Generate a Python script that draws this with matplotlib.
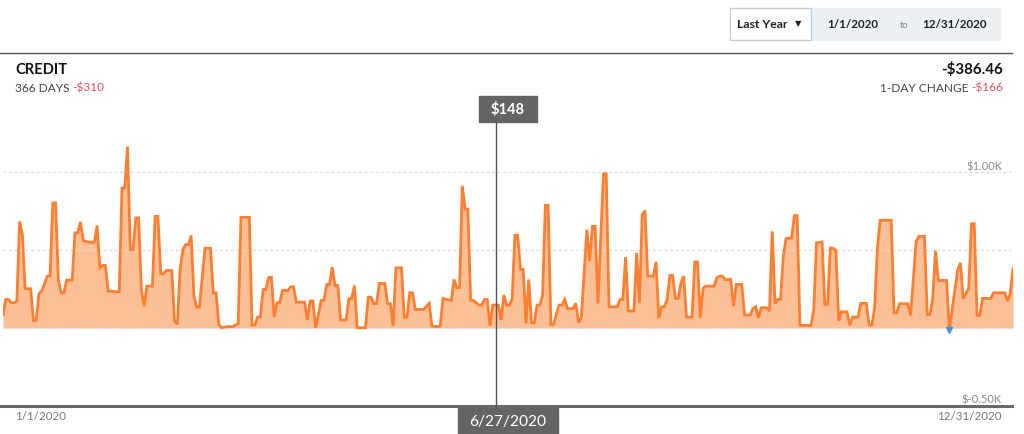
import matplotlib
matplotlib.use("Agg")
import matplotlib.pyplot as plt
from matplotlib.patches import Rectangle
from matplotlib.lines import Line2D

plt.rcParams['font.family'] = ['Lato', 'DejaVu Sans']

# day index (0 = 1/1/2020) and credit balance in $ at each vertex of the line
day = [0, 1, 2, 3, 4, 5, 6, 7, 8, 10, 11, 12, 13, 14, 16, 17, 18, 19, 20, 21,
       22, 23, 25, 26, 27, 28, 29, 31, 33, 34, 35, 36, 37, 38, 42, 43, 44, 45,
       46, 47, 48, 49, 50, 51, 52, 54, 55, 56, 57, 58, 59, 61, 62, 63, 64, 65,
       66, 67, 68, 69, 70, 71, 73, 75, 76, 77, 78, 79, 81, 83, 85, 86, 89,
       90, 91, 92, 93, 94, 95, 96, 97, 98, 99, 100, 101, 103, 104, 105, 106,
       109, 110, 111, 112, 113, 115, 116, 117, 118, 119, 120, 121, 122, 124,
       125, 126, 127, 128, 131, 132, 133, 134, 135, 136, 138, 139, 140, 141,
       142, 144, 145, 146, 147, 148, 149, 152, 154, 155, 157, 158, 159, 162,
       163, 164, 165, 166, 167, 168, 169, 170, 172, 173, 174, 175, 176, 177,
       178, 179,
       180, 181, 182, 183, 184, 185, 186, 187, 188, 189, 190, 191, 192, 193,
       194, 195, 196, 197, 198, 199, 200, 201, 202, 203, 204, 206, 207, 208,
       209, 211, 212, 213, 214, 215, 217, 218, 219, 222, 223, 224, 225, 226,
       228, 229, 230, 231, 232, 233, 235, 236, 237, 238, 239, 240, 241, 242,
       243, 244, 245, 246, 247, 249, 250, 251, 252, 253, 254, 257, 258, 259,
       260, 261, 263, 264, 265, 267, 268, 270, 271, 272, 273,
       274, 276, 277, 278, 279, 280, 281, 282, 283, 285, 286, 287, 288, 292,
       293, 294, 296, 297, 298, 299, 300, 301, 302, 303, 305, 306, 307, 309,
       310, 312, 313, 314, 315, 316, 317, 321, 322, 323, 324, 327, 328, 330,
       331, 333, 334, 335, 336, 337, 338, 341, 342, 343, 345, 346, 347, 349,
       350, 351, 352, 353, 354, 357, 358, 362, 363, 364, 365]
credit = [87, 183, 183, 162, 162, 173, 684, 599, 252, 252, 49, 49, 220, 237,
          333, 333, 802, 802, 311, 226, 226, 307, 307, 610, 610, 680, 561, 550,
          550, 657, 386, 401, 401, 237, 232, 898, 898, 1164, 503, 503, 706, 706,
          247, 141, 269, 269, 716, 716, 348, 348, 369, 369, 45, 23, 375, 503,
          535, 535, 593, 205, 134, 134, 512, 512, 226, 226, 23, 2, 9, 9, 28,
          710, 710,
          19, 19, 70, 70, 247, 247, 324, 324, 70, 162, 162, 241, 241, 264, 264,
          166, 166, 51, 173, 173, 2, 177, 177, 279, 279, 390, 273, 273, 51, 51,
          188, 188, 273, 2, 2, 198, 198, 156, 156, 286, 286, 156, 156, 13, 386,
          386, 70, 70, 226, 226, 119, 119, 158, 13, 9, 13, 190, 177, 311, 260,
          260, 912, 763, 763, 177, 177, 147, 147, 183, 183, 13, 147, 148, 147,
          51, 211, 147, 147, 188, 595, 595, 375, 375, 30, 311, 34, 34, 147, 147,
          211, 787, 787, 23, 23, 92, 147, 147, 183, 124, 124, 158, 34, 70, 631,
          429, 652, 652, 158, 989, 989, 136, 136, 183, 183, 454, 109, 109, 482,
          162, 727, 753, 333, 333, 424, 62, 136, 136, 183, 337, 337, 190, 190,
          290, 333, 70, 70, 424, 424, 66, 254, 269, 269, 322, 333, 333, 311,
          311, 141, 279, 279, 83, 83, 124, 136, 66,
          130, 130, 109, 620, 156, 183, 183, 461, 574, 578, 721, 721, 17, 17,
          119, 546, 552, 151, 151, 514, 510, 497, 45, 104, 104, 17, 70, 70, 158,
          158, 19, 19, 130, 514, 691, 691, 98, 98, 156, 156, 81, 556, 588, 588,
          87, 87, 194, 497, 305, 305, -9, 119, 371, 418, 188, 254, 669, 669,
          81, 81, 190, 190, 226, 226, 173, 220, 380]

grid_vals = [0, 500, 1000]
sel_day = 178
sel_label = "$148"
sel_date = "6/27/2020"
neg_day = 342
neg_val = -15

W, H = 1024, 434


def fx(x):
    return x / W


def fy(y):
    return 1 - y / H


fig = plt.figure(figsize=(W / 100, H / 100), dpi=100)
ax = fig.add_axes([fx(3), fy(406), fx(1010), (406 - 109.7) / H])

for g in grid_vals:
    ax.axhline(g, color='#dddddd', lw=1, ls=(0, (2, 2)), zorder=2)
ax.fill_between(day, credit, 0, color='#fdbf96', lw=0, zorder=1)
ax.plot(day, credit, color='#fd7f32', lw=2, zorder=3, solid_joinstyle='miter')
ax.plot([neg_day], [neg_val], marker='v', color='#4a8fd8', ms=4, zorder=4)
ax.set_xlim(0, 365)
ax.set_ylim(-500, 1400)
ax.axis('off')

# right y labels
fig.text(fx(1002), fy(167), "$1.00K", ha='right', va='center', fontsize=8, color='#888888')
fig.text(fx(1002), fy(400), "$-0.50K", ha='right', va='center', fontsize=8, color='#888888')

# bottom axis line and x labels
fig.add_artist(Line2D([0, fx(1012)], [fy(406), fy(406)], lw=2.2, color='#6a6a6a'))
fig.text(fx(15), fy(417), "1/1/2020", ha='left', va='center', fontsize=8.3, color='#777777')
fig.text(fx(1002), fy(417), "12/31/2020", ha='right', va='center', fontsize=8.3, color='#777777')

# selection line and labels
xsel = 3 + sel_day * 1010 / 365
fig.add_artist(Line2D([fx(xsel), fx(xsel)], [fy(122), fy(408)], lw=1, color='#555555'))
fig.add_artist(Rectangle((fx(479), fy(122)), fx(58), 26 / H, color='#646464'))
fig.text(fx(508), fy(109), sel_label, ha='center', va='center', fontsize=10.5,
         fontweight='bold', color='white')
fig.add_artist(Rectangle((fx(458), fy(434)), fx(100), 26 / H, color='#646464'))
fig.text(fx(508), fy(422), sel_date, ha='center', va='center', fontsize=11.2, color='white')

# header
fig.add_artist(Line2D([0, fx(1012)], [fy(53), fy(53)], lw=1, color='#555555'))
fig.text(fx(15), fy(70), "CREDIT", ha='left', va='center', fontsize=10.6,
         fontweight='bold', color='#111111')
t = fig.text(fx(15), fy(88), "366 DAYS ", ha='left', va='center', fontsize=8.6, color='#444444')
fig.canvas.draw()
bb = t.get_window_extent()
fig.text(bb.x1 / W, fy(88), "-$310", ha='left', va='center', fontsize=8.6, color='#e0505c')

fig.text(fx(1003), fy(70), "-$386.46", ha='right', va='center', fontsize=10.8,
         fontweight='bold', color='#111111')
t2 = fig.text(fx(1003), fy(88), "-$166", ha='right', va='center', fontsize=8.6, color='#e0505c')
fig.canvas.draw()
bb2 = t2.get_window_extent()
fig.text(bb2.x0 / W, fy(88), "1-DAY CHANGE ", ha='right', va='center', fontsize=8.6, color='#444444')

# date range control
fig.add_artist(Rectangle((fx(811), fy(40)), fx(189), 32 / H, color='#eaf0f4'))
fig.add_artist(Rectangle((fx(730), fy(40)), fx(81), 32 / H, facecolor='white',
                         edgecolor='#cccccc', lw=1))
fig.text(fx(737), fy(25), "Last Year", ha='left', va='center', fontsize=8.8,
         fontweight='bold', color='#222222')
fig.text(fx(801), fy(24), "\u25BC", ha='right', va='center', fontsize=6,
         color='#222222', family='DejaVu Sans')
fig.text(fx(853), fy(25), "1/1/2020", ha='center', va='center', fontsize=8.4,
         fontweight='bold', color='#222222')
fig.text(fx(904), fy(25), "to", ha='center', va='center', fontsize=6.5, color='#888888')
fig.text(fx(954), fy(25), "12/31/2020", ha='center', va='center', fontsize=8.4,
         fontweight='bold', color='#222222')

fig.savefig("out.png", dpi=100)
